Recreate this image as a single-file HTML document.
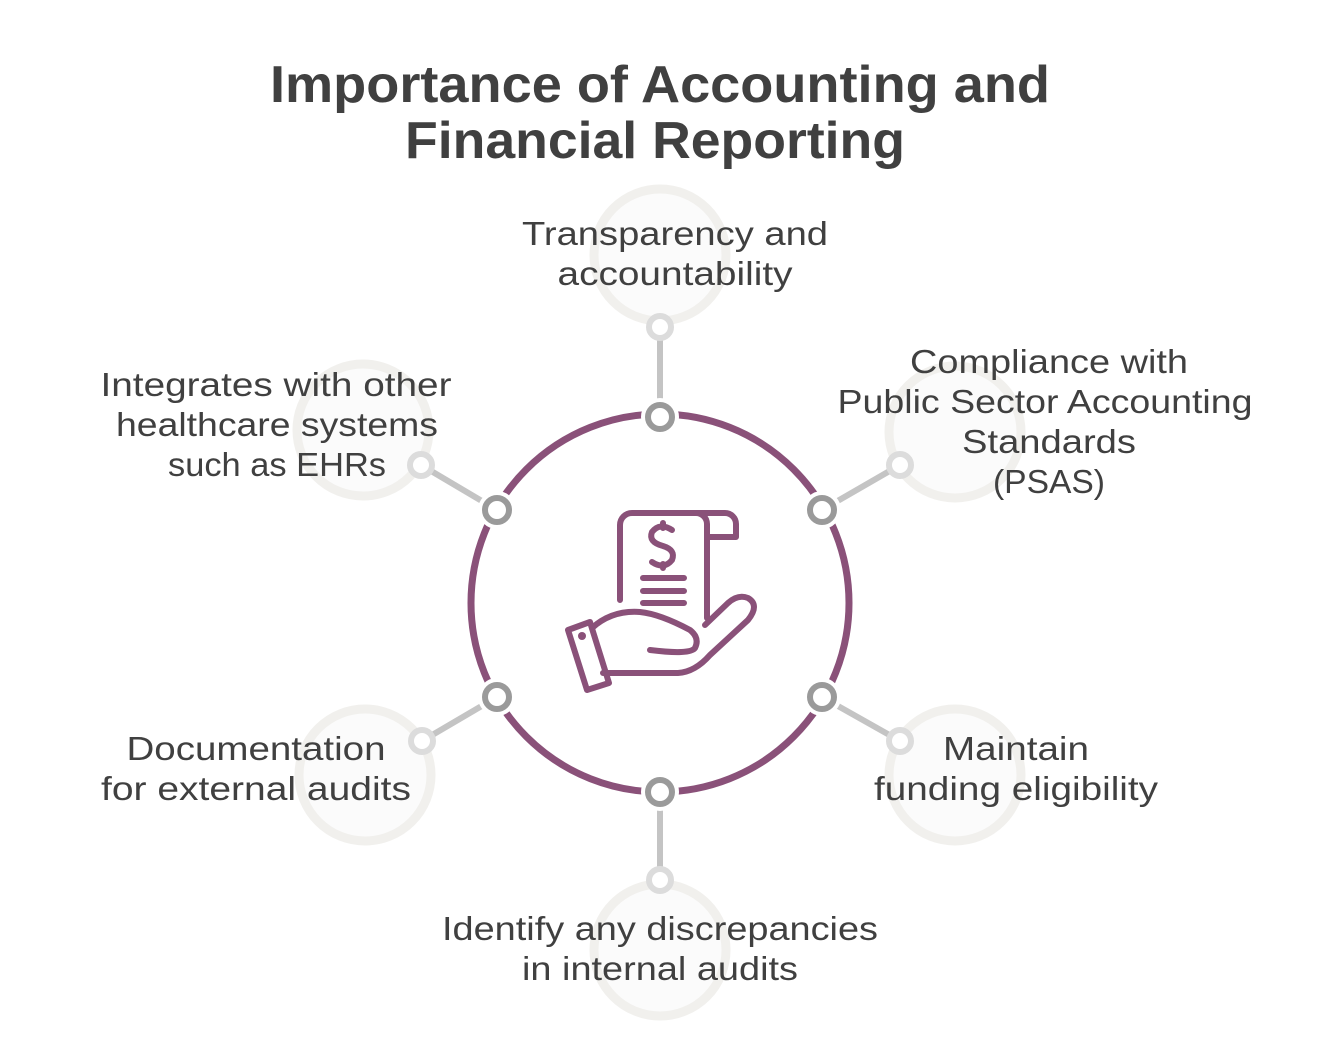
<!DOCTYPE html>
<html><head><meta charset="utf-8"><style>
body{margin:0;background:#fff}
svg{display:block}
text{font-family:"Liberation Sans",sans-serif;fill:#404040}
.t{font-size:33px}
</style></head><body>
<svg width="1320" height="1056" viewBox="0 0 1320 1056" xmlns="http://www.w3.org/2000/svg">
<defs>
<linearGradient id="g" x1="0" y1="0" x2="1" y2="0"><stop offset="0" stop-color="#e2e2e2"/><stop offset="1" stop-color="#9a9a9a"/></linearGradient>
</defs>
<text x="660" y="102" text-anchor="middle" font-size="52" font-weight="bold" textLength="780" lengthAdjust="spacingAndGlyphs">Importance of Accounting and</text>
<text x="655" y="158" text-anchor="middle" font-size="52" font-weight="bold" textLength="500" lengthAdjust="spacingAndGlyphs">Financial Reporting</text>

<g fill="#fbfbfb" stroke="#f1f0ed" stroke-width="9">
<circle cx="660" cy="255" r="66"/>
<circle cx="955" cy="432" r="66"/>
<circle cx="363" cy="430" r="66"/>
<circle cx="365" cy="775" r="66"/>
<circle cx="955" cy="775" r="66"/>
<circle cx="660" cy="950" r="66"/>
</g>

<circle cx="660" cy="603" r="189" fill="none" stroke="#8a5179" stroke-width="7"/>

<g stroke-width="6" stroke-linecap="round">
<line x1="660" y1="327" x2="660" y2="417" stroke="#c4c4c4"/>
<line x1="660" y1="880" x2="660" y2="792" stroke="#c4c4c4"/>
<line x1="900" y1="465" x2="822" y2="510" stroke="#c4c4c4"/>
<line x1="421" y1="465" x2="497" y2="510" stroke="#c4c4c4"/>
<line x1="422" y1="741" x2="497" y2="697" stroke="#c4c4c4"/>
<line x1="900" y1="741" x2="822" y2="697" stroke="#c4c4c4"/>
</g>
<g fill="#fff" stroke="#fff" stroke-width="14">
<circle cx="660" cy="417" r="12"/><circle cx="660" cy="792" r="12"/>
<circle cx="822" cy="510" r="12"/><circle cx="497" cy="510" r="12"/>
<circle cx="497" cy="697" r="12"/><circle cx="822" cy="697" r="12"/>
</g>
<g fill="#fff" stroke="#9a9a9a" stroke-width="6">
<circle cx="660" cy="417" r="12"/><circle cx="660" cy="792" r="12"/>
<circle cx="822" cy="510" r="12"/><circle cx="497" cy="510" r="12"/>
<circle cx="497" cy="697" r="12"/><circle cx="822" cy="697" r="12"/>
</g>
<g fill="#fff" stroke="#dcdcdc" stroke-width="6">
<circle cx="660" cy="327" r="11"/><circle cx="660" cy="880" r="11"/>
<circle cx="900" cy="465" r="11"/><circle cx="421" cy="465" r="11"/>
<circle cx="422" cy="741" r="11"/><circle cx="900" cy="741" r="11"/>
</g>

<!-- icon -->
<g fill="none" stroke="#8a5179" stroke-width="6" stroke-linecap="round" stroke-linejoin="round">
<path d="M620 600 V525 a12 12 0 0 1 12 -12 H725 a11 11 0 0 1 11 11 V537 H707 V618"/>
<path d="M707 537 V524 a11 11 0 0 0 -11 -11"/>
<path d="M672 530 Q660 522 652 532 Q648 542 663 546 Q676 550 672 560 Q664 570 652 562 M663 523 V528 M663 564 V568"/>
<path d="M643 578 H684 M643 591 H684 M643 603 H684"/>
<path d="M568 630 L590 622 L609 683 L587 690 Z"/>
<path d="M592 628 Q612 610 640 612 Q660 614 690 630 Q700 638 695 648 Q690 655 650 650"/>
<path d="M603 673 L678 673 Q695 672 710 655 L748 620 Q760 605 748 598 Q738 594 728 603 L705 625"/>
</g>
<circle cx="582" cy="636" r="4" fill="#8a5179"/>

<g class="t" text-anchor="middle">
<text x="675" y="245" textLength="306" lengthAdjust="spacingAndGlyphs">Transparency and</text>
<text x="675" y="285" textLength="235" lengthAdjust="spacingAndGlyphs">accountability</text>
<text x="1049" y="373" textLength="278" lengthAdjust="spacingAndGlyphs">Compliance with</text>
<text x="1045" y="413" textLength="415" lengthAdjust="spacingAndGlyphs">Public Sector Accounting</text>
<text x="1049" y="453" textLength="174" lengthAdjust="spacingAndGlyphs">Standards</text>
<text x="1049" y="493" textLength="112" lengthAdjust="spacingAndGlyphs">(PSAS)</text>
<text x="276" y="396" textLength="351" lengthAdjust="spacingAndGlyphs">Integrates with other</text>
<text x="277" y="436" textLength="322" lengthAdjust="spacingAndGlyphs">healthcare systems</text>
<text x="277" y="476" textLength="218" lengthAdjust="spacingAndGlyphs">such as EHRs</text>
<text x="256" y="760" textLength="259" lengthAdjust="spacingAndGlyphs">Documentation</text>
<text x="256" y="800" textLength="310" lengthAdjust="spacingAndGlyphs">for external audits</text>
<text x="1016" y="760" textLength="146" lengthAdjust="spacingAndGlyphs">Maintain</text>
<text x="1016" y="800" textLength="284" lengthAdjust="spacingAndGlyphs">funding eligibility</text>
<text x="660" y="940" textLength="436" lengthAdjust="spacingAndGlyphs">Identify any discrepancies</text>
<text x="660" y="980" textLength="276" lengthAdjust="spacingAndGlyphs">in internal audits</text>
</g>
</svg>
</body></html>
